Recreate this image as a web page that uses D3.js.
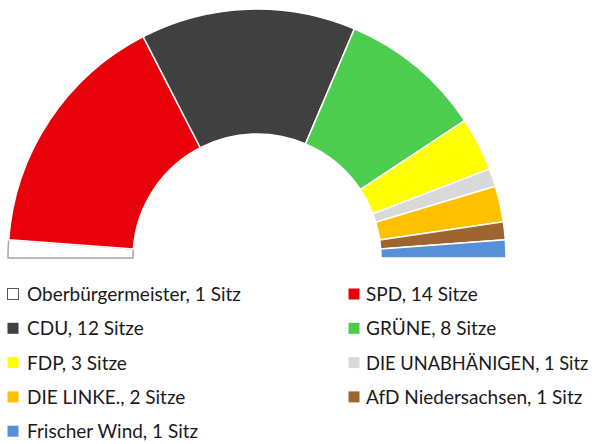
<!DOCTYPE html>
<html><head><meta charset="utf-8">
<script src="https://cdn.jsdelivr.net/npm/d3@7"></script>
<style>body{margin:0;background:#fff}svg{display:block}</style>
</head><body>
<script>
const parties = ["Oberbürgermeister","SPD","CDU","GRÜNE","FDP","DIE UNABHÄNIGEN","DIE LINKE.","AfD Niedersachsen","Frischer Wind"];
const seats = [1,14,12,8,3,1,2,1,1];
const palette = ["#ffffff","#e8000b","#404040","#4ccd4f","#ffff00","#d9d9d9","#ffc000","#9e652e","#5790d8"];

const W=595,H=444;
const svg=d3.select("body").append("svg").attr("width",W).attr("height",H);
const cx=257, cy=258, rOut=249, rIn=124;
const data=parties.map((p,i)=>({party:p,seats:seats[i],color:palette[i]}));
const pie=d3.pie().value(d=>d.seats).sort(null).startAngle(-Math.PI/2).endAngle(Math.PI/2);
const arc=d3.arc().innerRadius(rIn).outerRadius(rOut);
const g=svg.append("g").attr("transform",`translate(${cx},${cy})`);
g.selectAll("path").data(pie(data)).join("path")
 .attr("d",arc)
 .attr("fill",d=>d.data.color)
 .attr("stroke",d=>d.data.color==="#ffffff"?"#a6a6a6":"#ffffff")
 .attr("stroke-width",1.5)
 .attr("stroke-linejoin","miter");

const font="Lato, 'Open Sans', sans-serif";
const leg=svg.append("g");
const cols=[7,348], textOff=[20,18], rightLimit=589, fs=19;
data.forEach((d,i)=>{
  const col=i%2,row=Math.floor(i/2);
  const x=cols[col], base=301+row*34.3;
  leg.append("rect").attr("x",x+0.5).attr("y",base-12.5).attr("width",11).attr("height",11)
    .attr("fill",d.color).attr("stroke",d.color==="#ffffff"?"#595959":"none").attr("stroke-width",1);
  const tx=x+textOff[col];
  const t=leg.append("text").attr("x",tx).attr("y",base)
    .attr("font-family",font).attr("font-size",fs).attr("fill","#1a1a1a")
    .text(`${d.party}, ${d.seats} ${d.seats===1?"Sitz":"Sitze"}`);
  const len=t.node().getComputedTextLength();
  if(tx+len>rightLimit){
    t.attr("font-size",Math.floor(fs*(rightLimit-tx)/len*10)/10);
  }
});
</script>
</body></html>
